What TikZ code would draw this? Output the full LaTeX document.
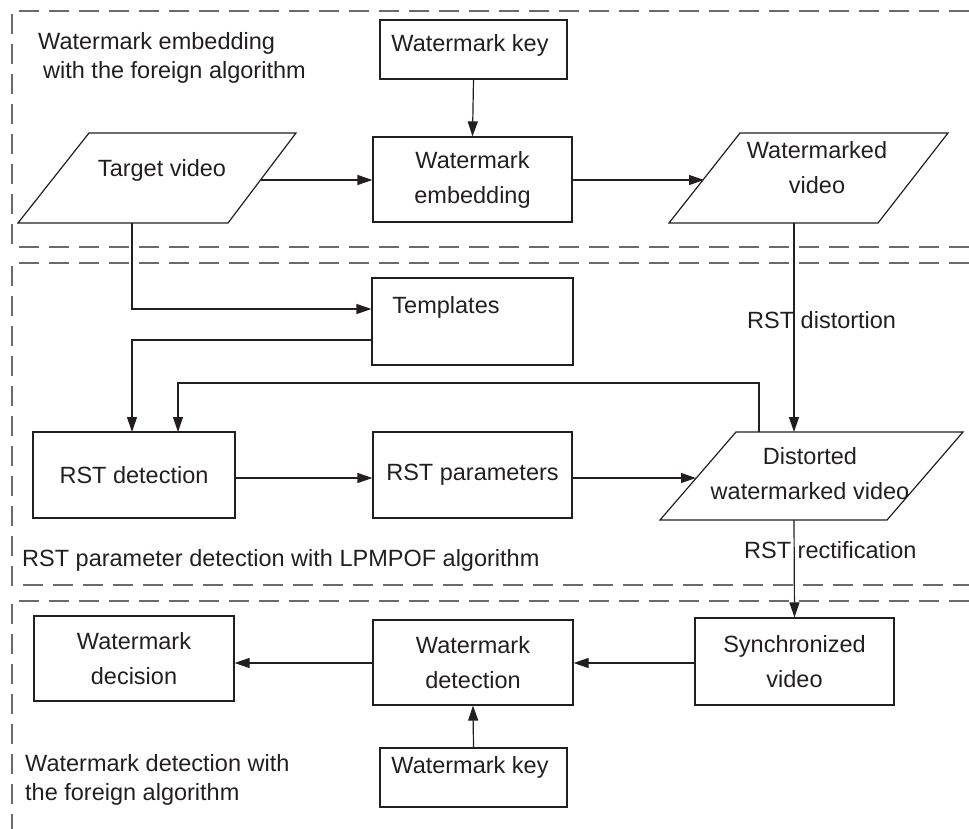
\documentclass[tikz,border=0pt]{standalone}
\usepackage{fontspec}
\setmainfont{Liberation Sans}
\usetikzlibrary{arrows.meta}
\definecolor{ink}{HTML}{231F20}
\definecolor{dashgray}{HTML}{6A6A6A}
\newcommand\diagfont{\fontsize{23.5}{35}\selectfont}
\newcommand\sectfont{\fontsize{23.5}{29}\selectfont}
\begin{document}
\begin{tikzpicture}[x=1pt,y=-1pt,
  box/.style={draw=ink, line width=1.2pt, inner sep=0pt, align=center,
              font=\diagfont, text=ink},
  txt/.style={inner sep=0pt, align=center, font=\diagfont, text=ink},
  sectlbl/.style={inner sep=0pt, align=left, font=\sectfont, text=ink, anchor=west},
  conn/.style={draw=ink, line width=1.2pt, -{Triangle[length=15pt,width=10pt]}},
  plain/.style={draw=ink, line width=1.2pt},
  section/.style={draw=dashgray, line width=1.2pt, dash pattern=on 20pt off 10pt}]

\useasboundingbox (0,0) rectangle (969,829);

% --- dashed section frames ---
\draw[section] (969,11) -- (12,11) -- (12,247) -- (969,247);
\draw[section] (969,263) -- (12,263) -- (12,585) -- (969,585);
\draw[section] (969,601) -- (12,601) -- (12,829);

% --- section titles ---
\node[sectlbl] (title1) at (38,57.5) {Watermark embedding\\\hspace*{5pt}with the foreign algorithm};
\node[sectlbl] (title2) at (22,560) {RST parameter detection with LPMPOF algorithm};
\node[sectlbl, align=left] (title3) at (25,780) {Watermark detection with\\the foreign algorithm};

% --- embedding stage ---
\node[box, minimum width=187, minimum height=59] (key1) at (473.5,49.5) {};
\node[txt] (key1txt) at (470,45) {Watermark key};
\node[box, minimum width=199, minimum height=85] (embed) at (472.5,179.5) {Watermark\\embedding};

% target video (parallelogram)
\draw[plain] (89,133) -- (296,133) -- (228,223) -- (18,223) -- cycle;
\node[txt] (target) at (162,170) {Target video};
\coordinate (target-r) at (261,180);
\coordinate (target-b) at (132,223);

% watermarked video (parallelogram)
\draw[plain] (740,133) -- (948,133) -- (878,223) -- (669,223) -- cycle;
\node[txt] (wmv) at (817,168) {Watermarked\\video};
\coordinate (wmv-l) at (704,180);
\coordinate (wmv-b) at (794,223);

% --- detection of RST parameters ---
\node[box, minimum width=201, minimum height=87] (templates) at (472.5,321.5) {};
\node[txt] (templatestxt) at (446,307) {Templates};
\node[box, minimum width=202, minimum height=86] (rstdet) at (134,475) {RST detection};
\node[box, minimum width=199, minimum height=86] (rstpar) at (472.5,475) {RST parameters};

% distorted watermarked video (parallelogram)
\draw[plain] (736,432) -- (963,432) -- (887,520) -- (660,520) -- cycle;
\node[txt] (dist) at (810,474) {Distorted\\watermarked video};
\coordinate (dist-t) at (794,432);
\coordinate (dist-fb) at (759,432);
\coordinate (dist-l) at (696,478);
\coordinate (dist-b) at (794,520);

% --- detection stage ---
\node[box, minimum width=200, minimum height=85] (decision) at (134,658.5) {Watermark\\decision};
\node[box, minimum width=200, minimum height=85] (detect) at (473,662.5) {Watermark\\detection};
\node[box, minimum width=199, minimum height=87] (sync) at (794.5,661.5) {Synchronized\\video};
\node[box, minimum width=187, minimum height=59] (key2) at (473.5,777.5) {};
\node[txt] (key2txt) at (470,767) {Watermark key};

% --- connectors ---
\draw[conn] (key1.south) -- (embed.north);
\draw[conn] (target-r) -- (embed.west |- target-r);
\draw[conn] (embed.east |- wmv-l) -- (wmv-l);
\draw[conn] (wmv-b) -- (dist-t);
\node[txt, anchor=west] (distlbl) at (747,320) {RST distortion};

\draw[conn] (target-b) -- (132,309) -- (templates.west |- 0,309);
\draw[conn] (templates.west |- 0,340) -- (132,340) -- (132,432);
\draw[conn] (dist-fb) -- (759,383) -- (178,383) -- (178,432);
\draw[conn] (rstdet.east |- 0,478) -- (rstpar.west |- 0,478);
\draw[conn] (rstpar.east |- dist-l) -- (dist-l);

\draw[conn] (dist-b) -- (sync.north);
\node[txt, anchor=west] (rectlbl) at (744,550) {RST rectification};

\draw[conn] (sync.west |- 0,663) -- (detect.east |- 0,663);
\draw[conn] (detect.west |- 0,663) -- (decision.east |- 0,663);
\draw[conn] (key2.north) -- (detect.south);

\end{tikzpicture}
\end{document}
